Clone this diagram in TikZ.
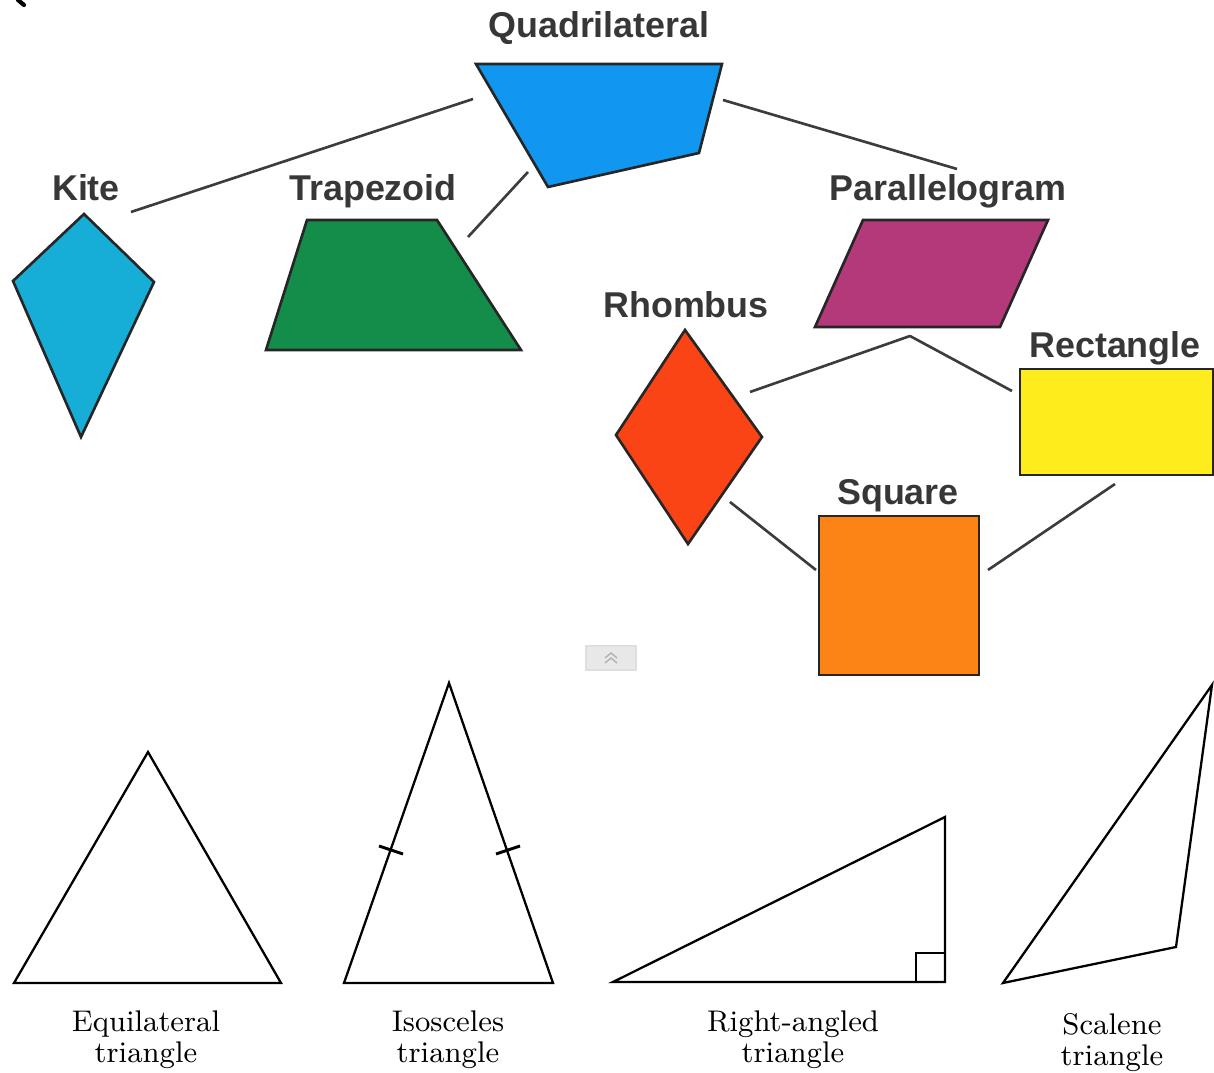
\documentclass[tikz,border=0pt]{standalone}
\usepackage{fontspec}
\newfontfamily\shapefont{Liberation Sans}
\usetikzlibrary{calc}

\definecolor{quadblue}{RGB}{18,151,240}
\definecolor{kitecyan}{RGB}{22,174,214}
\definecolor{trapgreen}{RGB}{20,140,74}
\definecolor{paramag}{RGB}{180,57,122}
\definecolor{rhomred}{RGB}{250,68,22}
\definecolor{rectyel}{RGB}{255,236,28}
\definecolor{sqorange}{RGB}{252,132,22}
\definecolor{lblgray}{RGB}{55,55,55}
\definecolor{linkgray}{RGB}{60,60,60}

\tikzset{
  shapelbl/.style={anchor=base, inner sep=0pt, text=lblgray,
    font=\shapefont\bfseries\fontsize{10.2}{12}\selectfont},
  trilbl/.style={align=center, inner sep=0pt, font=\fontsize{8.5}{8.8}\selectfont},
  link/.style={draw=linkgray, line width=0.75pt, line join=round},
  outline/.style={draw=black!85, line width=0.75pt, line join=miter},
  tri/.style={draw=black, line width=0.65pt, line join=miter},
  tick/.style={draw=black, line width=0.85pt}
}

\begin{document}
\begin{tikzpicture}[x=0.01cm, y=-0.01cm]
\useasboundingbox (0,0) rectangle (1214,1073);
\draw[line width=1.2pt, line cap=round] (18,0) -- (24,5);

\draw[outline, fill=quadblue] (476,64) -- (722,64) -- (699,153) -- (548,187) -- cycle;
\draw[outline, fill=kitecyan] (84,214) -- (154,282) -- (81,437) -- (13,281) -- cycle;
\draw[outline, fill=trapgreen] (307,220) -- (437,220) -- (521,350) -- (266,350) -- cycle;
\draw[outline, fill=paramag] (863,220) -- (1048,220) -- (1000,327) -- (815,327) -- cycle;
\draw[outline, fill=rectyel] (1020,369) rectangle (1213,475);
\draw[outline, fill=rhomred] (685,330) -- (762,437) -- (688,544) -- (616,435) -- cycle;
\draw[outline, fill=sqorange] (819,516) rectangle (979,675);

\node[shapelbl] (quadlbl) at (599,38) {Quadrilateral};
\node[shapelbl] (kitelbl) at (86,201) {Kite};
\node[shapelbl] (traplbl) at (373,201) {Trapezoid};
\node[shapelbl] (paralbl) at (948,201) {Parallelogram};
\node[shapelbl] (rhomlbl) at (686,318) {Rhombus};
\node[shapelbl] (rectlbl) at (1115,358) {Rectangle};
\node[shapelbl] (sqlbl) at (898,505) {Square};

\coordinate (qL) at (473,99);
\coordinate (kT) at (131,212);
\coordinate (qB) at (528,172);
\coordinate (tR) at (468,237);
\coordinate (qR) at (723,100);
\coordinate (pT) at (957,169);
\coordinate (pB) at (910,336);
\coordinate (rhR) at (750,392);
\coordinate (reL) at (1012,391);
\coordinate (rhB) at (730,502);
\coordinate (sqL) at (816,570);
\coordinate (sqR) at (988,570);
\coordinate (reB) at (1115,484);
\foreach \From/\To in {qL/kT, qB/tR, qR/pT, rhB/sqL, sqR/reB}
\draw[link] (\From) -- (\To);
\draw[link] (rhR) -- (pB) -- (reL);

\draw[draw=gray!25, fill=gray!18] (586,646) rectangle (636,670);
\draw[gray!60, line width=0.4pt] (605,658) -- (611,653) -- (617,658);
\draw[gray!60, line width=0.4pt] (605,663) -- (611,658) -- (617,663);

\draw[tri] (14,983) -- (281,983) -- (148,752) -- cycle;
\draw[tri] (344,983) -- (553,983) -- (449,683) -- cycle;
\draw[tick] (379,846) -- (403,854);
\draw[tick] (496,854) -- (520,846);
\draw[tri] (613,982) -- (945,982) -- (945,817) -- cycle;
\draw[draw=black, line width=0.45pt] (916,982) -- (916,953) -- (945,953);
\draw[tri] (1003,983) -- (1176,947) -- (1212,685) -- cycle;

\node[trilbl] (equilbl) at (146,1040) {Equilateral\\triangle};
\node[trilbl] (isoslbl) at (448,1040) {Isosceles\\triangle};
\node[trilbl] (rightlbl) at (793,1040) {Right-angled\\triangle};
\node[trilbl] (scallbl) at (1112,1043) {Scalene\\triangle};
\end{tikzpicture}
\end{document}
